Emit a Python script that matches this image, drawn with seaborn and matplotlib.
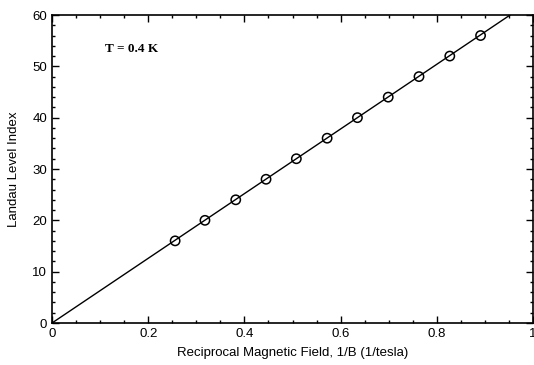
import matplotlib
matplotlib.use("Agg")
import matplotlib.pyplot as plt
import seaborn as sns
import pandas as pd
from matplotlib.ticker import MultipleLocator

# data
inv_field = [0.256, 0.318, 0.382, 0.445, 0.508, 0.572, 0.635, 0.699, 0.763, 0.827, 0.891]
level_index = [16, 20, 24, 28, 32, 36, 40, 44, 48, 52, 56]
fit_x = [0.0, 1.0]
fit_y = [0.0, 63.0]

x_ticks = [0, 0.2, 0.4, 0.6, 0.8, 1]
x_tick_labels = ["0", "0.2", "0.4", "0.6", "0.8", "1"]
y_ticks = [0, 10, 20, 30, 40, 50, 60]

sns.set_theme(style="ticks")
plt.rcParams['font.family'] = ['Liberation Sans', 'DejaVu Sans']

fig = plt.figure(figsize=(5.34, 3.65), dpi=100)
ax = fig.add_axes([52/534, 1-323/365, (533-52)/534, (323-15)/365])

pts = pd.DataFrame({"x": inv_field, "y": level_index})
fit = pd.DataFrame({"x": fit_x, "y": fit_y})

sns.lineplot(data=fit, x="x", y="y", ax=ax, color="black", linewidth=1.0)
sns.scatterplot(data=pts, x="x", y="y", ax=ax, marker="o", s=45,
                facecolors="none", edgecolor="black", linewidth=1.1, zorder=5)

ax.set_xlim(0, 1)
ax.set_ylim(0, 60)
ax.set_xticks(x_ticks)
ax.set_xticklabels(x_tick_labels)
ax.set_yticks(y_ticks)
ax.xaxis.set_minor_locator(MultipleLocator(0.05))
ax.yaxis.set_minor_locator(MultipleLocator(2))
ax.tick_params(which="both", direction="in", top=True, right=True, color="black",
               labelsize=9.5, labelcolor="black", width=1.0)
ax.tick_params(which="major", length=5)
ax.tick_params(which="minor", length=2.5)
for s in ax.spines.values():
    s.set_color("black")
    s.set_linewidth(1.2)

ax.set_xlabel("Reciprocal Magnetic Field, 1/B (1/tesla)", fontsize=9.5, color="black", labelpad=5)
ax.set_ylabel("Landau Level Index", fontsize=9.5, color="black", labelpad=9)

ax.text(0.11, 0.88, "T = 0.4 K", transform=ax.transAxes, fontsize=9.5,
        fontweight="bold", family=["Liberation Serif", "DejaVu Serif"], color="black")

fig.savefig("out.png", dpi=100)
